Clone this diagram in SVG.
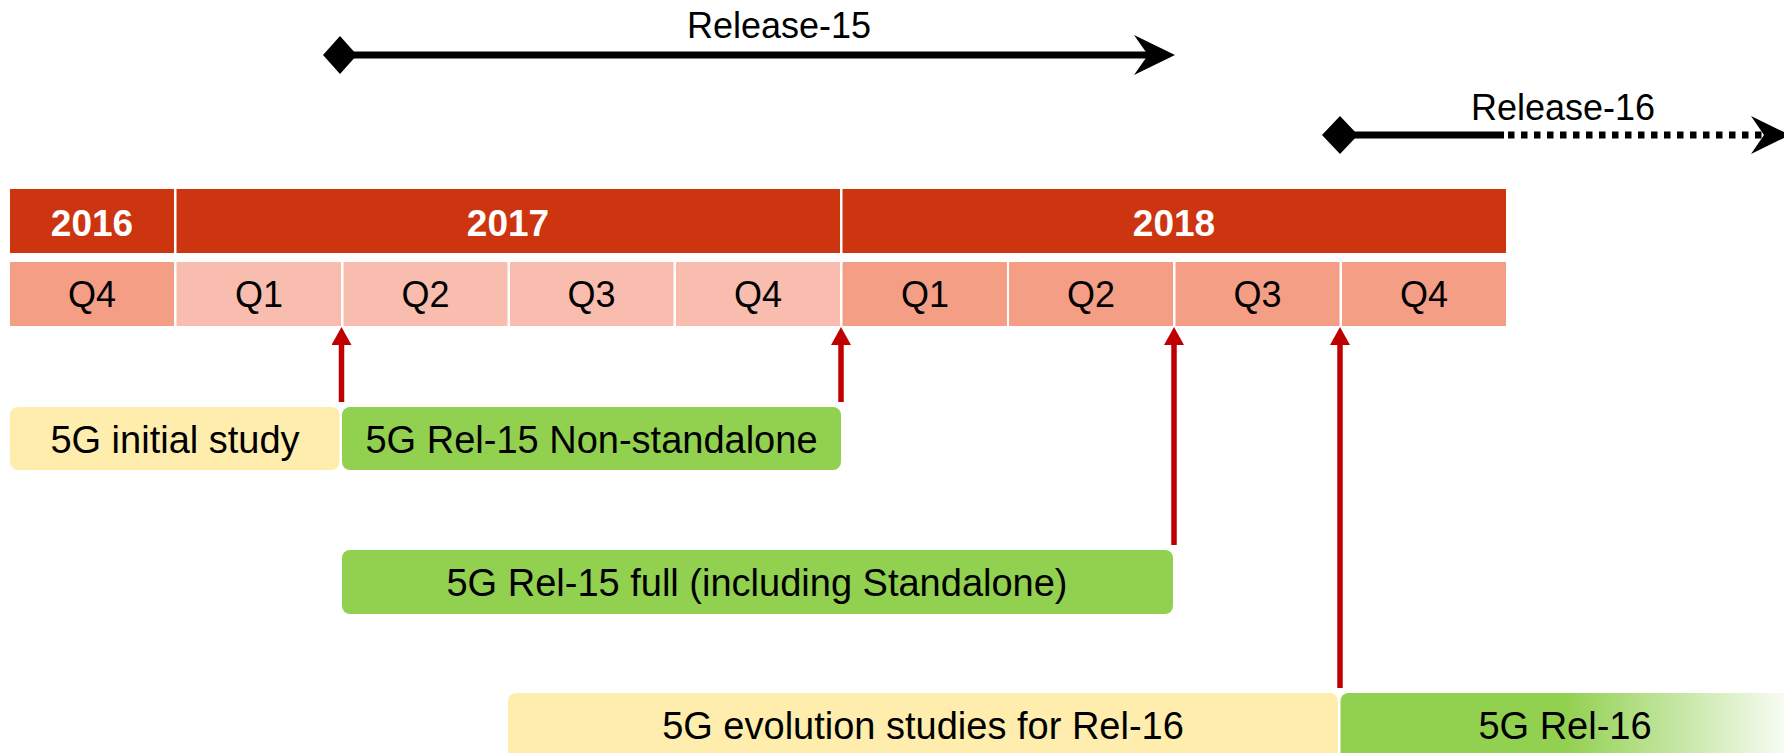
<svg xmlns="http://www.w3.org/2000/svg" width="1784" height="753" viewBox="0 0 1784 753">
  <defs>
    <style>
      text { font-family: "Liberation Sans", Arial, sans-serif; fill: #000; text-anchor: middle; }
      .year rect { fill: #CD3410; }
      .year text { fill: #FFFFFF; font-weight: bold; font-size: 37px; }
      .qa rect { fill: #F59E86; }
      .qb rect { fill: #F8BDAE; }
      .q text { font-size: 36px; }
      .box text { font-size: 38px; }
      .yellow { fill: #FFEDAE; }
      .green { fill: #92D050; }
      .rel text { font-size: 36px; }
      .redarrow { stroke: #C00000; stroke-width: 5.5; fill: none; marker-end: url(#redHead); }
      .blk { stroke: #000; stroke-width: 7; fill: none; }
      .blkfill { fill: #000; }
    </style>
    <marker id="redHead" viewBox="0 0 18 20" refX="0" refY="10" markerWidth="18" markerHeight="20" markerUnits="userSpaceOnUse" orient="auto">
      <path d="M0,0 L18,10 L0,20 Z" fill="#C00000"/>
    </marker>
    <linearGradient id="rel16grad" x1="1340" y1="0" x2="1790" y2="0" gradientUnits="userSpaceOnUse">
      <stop offset="0" stop-color="#92D050"/>
      <stop offset="0.5" stop-color="#92D050"/>
      <stop offset="1" stop-color="#92D050" stop-opacity="0.05"/>
    </linearGradient>
  </defs>

  <rect x="0" y="0" width="1784" height="753" fill="#FFFFFF"/>

  <!-- Years -->
  <g id="year-2016" class="year">
    <rect x="10" y="189" width="164" height="64"/>
    <text x="92" y="236">2016</text>
  </g>
  <g id="year-2017" class="year">
    <rect x="176.5" y="189" width="663.5" height="64"/>
    <text x="508" y="236">2017</text>
  </g>
  <g id="year-2018" class="year">
    <rect x="842.5" y="189" width="663.5" height="64"/>
    <text x="1174" y="236">2018</text>
  </g>

  <!-- Quarters -->
  <g id="q4-2016" class="q qa">
    <rect x="10" y="262" width="164" height="64"/>
    <text x="92" y="307">Q4</text>
  </g>
  <g id="q1-2017" class="q qb">
    <rect x="176.5" y="262" width="164.5" height="64"/>
    <text x="259" y="307">Q1</text>
  </g>
  <g id="q2-2017" class="q qb">
    <rect x="343.5" y="262" width="164" height="64"/>
    <text x="425.5" y="307">Q2</text>
  </g>
  <g id="q3-2017" class="q qb">
    <rect x="510" y="262" width="163.5" height="64"/>
    <text x="591.5" y="307">Q3</text>
  </g>
  <g id="q4-2017" class="q qb">
    <rect x="676" y="262" width="164" height="64"/>
    <text x="758" y="307">Q4</text>
  </g>
  <g id="q1-2018" class="q qa">
    <rect x="842.5" y="262" width="164.5" height="64"/>
    <text x="925" y="307">Q1</text>
  </g>
  <g id="q2-2018" class="q qa">
    <rect x="1009" y="262" width="164" height="64"/>
    <text x="1091" y="307">Q2</text>
  </g>
  <g id="q3-2018" class="q qa">
    <rect x="1175.5" y="262" width="164" height="64"/>
    <text x="1257.5" y="307">Q3</text>
  </g>
  <g id="q4-2018" class="q qa">
    <rect x="1342" y="262" width="164" height="64"/>
    <text x="1424" y="307">Q4</text>
  </g>

  <!-- Release labels -->
  <g id="release-15" class="rel">
    <text x="779" y="38">Release-15</text>
  </g>
  <g id="release-16" class="rel">
    <text x="1563" y="120">Release-16</text>
  </g>

  <!-- Boxes -->
  <g id="box-initial-study" class="box">
    <rect class="yellow" x="10" y="407" width="329.5" height="63" rx="8"/>
    <text x="175" y="453">5G initial study</text>
  </g>
  <g id="box-rel15-nsa" class="box">
    <rect class="green" x="342" y="407" width="499" height="63" rx="8"/>
    <text x="591.5" y="453">5G Rel-15 Non-standalone</text>
  </g>
  <g id="box-rel15-full" class="box">
    <rect class="green" x="342" y="550" width="831" height="64" rx="8"/>
    <text x="757" y="596">5G Rel-15 full (including Standalone)</text>
  </g>
  <g id="box-evolution" class="box">
    <rect class="yellow" x="508" y="693" width="830" height="72" rx="8"/>
    <text x="923" y="739">5G evolution studies for Rel-16</text>
  </g>
  <g id="box-rel16" class="box">
    <rect fill="url(#rel16grad)" x="1340.5" y="693" width="460" height="72" rx="8"/>
    <text x="1565" y="739">5G Rel-16</text>
  </g>

  <!-- Connectors -->
  <g id="connectors">
    <!-- Release-15 span -->
    <line class="blk" x1="340" y1="55" x2="1150" y2="55"/>
    <polygon class="blkfill" points="323,55 340,36 357,55 340,74"/>
    <polygon class="blkfill" points="1175,55 1134,35 1148,55 1134,75"/>
    <!-- Release-16 span -->
    <line class="blk" x1="1340" y1="135" x2="1504" y2="135"/>
    <line class="blk" x1="1508" y1="135" x2="1762" y2="135" stroke-dasharray="6.5 6.5"/>
    <polygon class="blkfill" points="1322,135 1340,116 1358,135 1340,154"/>
    <polygon class="blkfill" points="1790,135 1751,116 1764,135 1751,154"/>
    <!-- Milestone arrows -->
    <line class="redarrow" x1="341.5" y1="402" x2="341.5" y2="345"/>
    <line class="redarrow" x1="841" y1="402" x2="841" y2="345"/>
    <line class="redarrow" x1="1174" y1="545" x2="1174" y2="345"/>
    <line class="redarrow" x1="1340" y1="688" x2="1340" y2="345"/>
  </g>
</svg>
